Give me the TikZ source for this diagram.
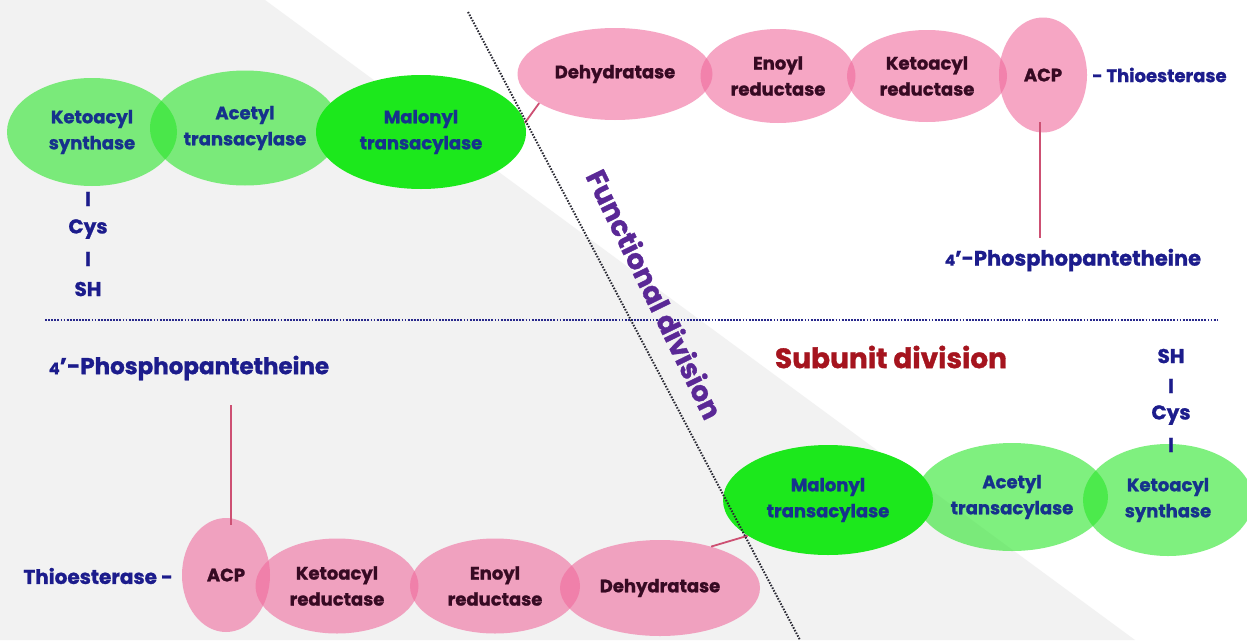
\documentclass[tikz,border=0pt]{standalone}
\usepackage{fontspec}
\setmainfont{Poppins}[BoldFeatures={FakeBold=1.2}]
\usetikzlibrary{shapes.geometric}
\definecolor{bggrey}{RGB}{242,242,242}
\definecolor{lgreen}{RGB}{43,230,43}
\definecolor{dgreen}{RGB}{28,232,28}
\definecolor{pinkc}{RGB}{240,107,157}
\definecolor{gtxt}{RGB}{22,50,140}
\definecolor{ptxt}{RGB}{55,10,35}
\definecolor{blutxt}{RGB}{28,28,140}
\definecolor{redtxt}{RGB}{165,20,30}
\definecolor{purtxt}{RGB}{90,40,150}
\definecolor{linkc}{RGB}{205,80,115}
\definecolor{hdot}{RGB}{40,40,140}
\definecolor{ddot}{RGB}{40,40,50}
\newcommand\fenz{\fontsize{18}{26}\selectfont\bfseries}
\newcommand\flab{\fontsize{18}{24}\selectfont\bfseries}
\newcommand\fcys{\fontsize{20}{24}\selectfont\bfseries}
\newcommand\flabb{\fontsize{20}{24}\selectfont\bfseries}
\newcommand\fbig{\fontsize{21}{26}\selectfont\bfseries}
\newcommand\fbigb{\fontsize{23}{28}\selectfont\bfseries}
\newcommand\fsub{\fontsize{28}{32}\selectfont\bfseries}
\begin{document}
\begin{tikzpicture}[x=1pt,y=-1pt,
  enz/.style={ellipse, inner sep=0pt, align=center, text opacity=1},
  genz/.style={enz, fill=lgreen, fill opacity=0.6, text=gtxt, font=\fenz},
  menz/.style={enz, fill=dgreen, text=gtxt, font=\fenz},
  penz/.style={enz, fill=pinkc, fill opacity=0.6, text=ptxt, font=\fenz},
  lab/.style={text=blutxt, font=\flab, inner sep=0pt},
  cys/.style={text=blutxt, font=\fcys, inner sep=0pt},
  biglab/.style={text=blutxt, font=\fbig, inner sep=0pt},
  link/.style={draw=linkc, line width=1.8pt},
  hline/.style={draw=hdot, line width=2.6pt, dash pattern=on 1.8pt off 1.3pt},
  dline/.style={draw=ddot, line width=2pt, dash pattern=on 1.5pt off 1.5pt}]
\useasboundingbox (0,0) rectangle (1247,640);
\fill[white] (0,0) rectangle (1247,640);
\fill[bggrey] (0,0) -- (265,0) -- (1135,640) -- (0,640) -- cycle;

% top-left green row
\node[genz, minimum width=170, minimum height=108] (tks) at (92,132) {Ketoacyl\\synthase};
\node[genz, minimum width=190, minimum height=115] (tat) at (245,128) {Acetyl\\transacylase};
\node[menz, minimum width=210, minimum height=114] (tmal) at (421,132) {Malonyl\\transacylase};
% Cys chain top-left
\node[cys] (tc1) at (88,199) {I};
\node[cys] (tc2) at (88,229) {Cys};
\node[cys] (tc3) at (88,259) {I};
\node[cys] (tc4) at (88,289) {SH};

% top-right pink row
\node[penz, minimum width=195, minimum height=92] (tdh) at (615,74) {Dehydratase};
\node[penz, minimum width=155, minimum height=94] (ter) at (778,76) {Enoyl\\reductase};
\node[penz, minimum width=160, minimum height=92] (tkr) at (927,76) {Ketoacyl\\reductase};
\node[penz, minimum width=88, minimum height=115] (tacp) at (1043,75) {ACP};
\node[lab, anchor=west] (tte) at (1092,75) {- Thioesterase};
\node[biglab] (tpp) at (1073,260) {{\fontsize{15}{18}\selectfont 4}’-Phosphopantetheine};
\coordinate (tpa) at (1040,122);
\coordinate (tpb) at (1040,238);
\draw[link] (tpa) -- (tpb);
\draw[link] (tdh.201) -- (tmal.5);

% bottom-left pink row
\node[biglab, font=\fbigb] (bpp) at (189,368) {{\fontsize{16}{18}\selectfont 4}’-Phosphopantetheine};
\node[lab, font=\flabb, anchor=east] (bte) at (173,576) {Thioesterase -};
\node[penz, minimum width=200, minimum height=96] (bdh) at (660,588) {Dehydratase};
\node[penz, minimum width=170, minimum height=95] (ber) at (495,586) {Enoyl\\reductase};
\node[penz, minimum width=163, minimum height=95] (bkr) at (337,586) {Ketoacyl\\reductase};
\node[penz, minimum width=88, minimum height=114] (bacp) at (226,575) {ACP};
\coordinate (bpa) at (231,405);
\coordinate (bpb) at (231,525);
\draw[link] (bpa) -- (bpb);

% bottom-right green row
\node[genz, minimum width=170, minimum height=112] (bks) at (1168,500) {Ketoacyl\\synthase};
\node[genz, minimum width=192, minimum height=108] (bat) at (1012,497) {Acetyl\\transacylase};
\node[menz, minimum width=210, minimum height=110] (bmal) at (828,500) {Malonyl\\transacylase};
\draw[link] (bdh.39) -- (bmal.204);
% Cys chain bottom-right
\node[cys] (bc1) at (1171,356) {SH};
\node[cys] (bc2) at (1171,386) {I};
\node[cys] (bc3) at (1171,415) {Cys};
\node[cys] (bc4) at (1171,445) {I};

\node[text=redtxt, font=\fsub, inner sep=0pt] (sub) at (891,357) {Subunit division};

% division lines
\coordinate (fa) at (468,12);
\coordinate (fb) at (800,640);
\coordinate (ha) at (45,320);
\coordinate (hb) at (1218,320);
\draw[hline] (ha) -- (hb);
\draw[dline] (fa) -- (fb);
\node[text=purtxt, font=\fsub, inner sep=0pt, rotate=-64] (fun) at (655,294) {Functional division};
\end{tikzpicture}
\end{document}
